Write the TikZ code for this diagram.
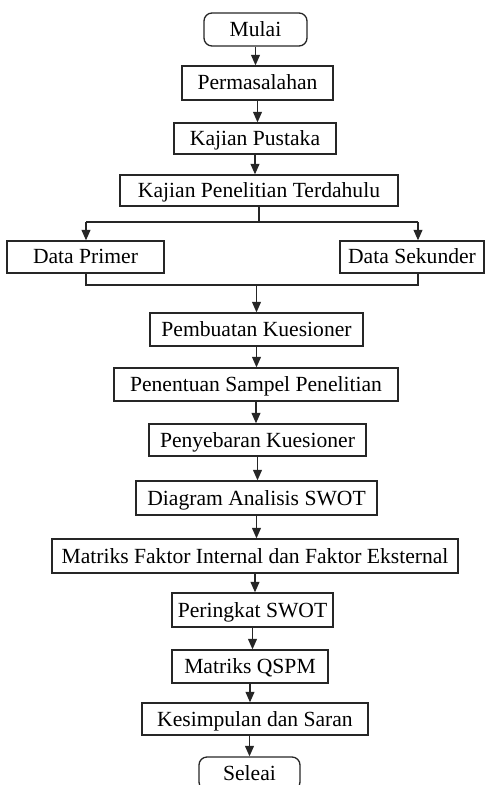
\documentclass[tikz,border=0pt]{standalone}
\usepackage{fontspec}
\setmainfont{Liberation Serif}
\usepackage{tikz}
\usetikzlibrary{arrows.meta}

\tikzset{
    kotak/.style={draw=black!85, line width=0.65pt, inner sep=0pt, text height=0.85em, text depth=0.15em, font=\fontsize{10.8}{13}\selectfont},
    ujung/.style={kotak, rounded corners=4pt},
    panah/.style={draw=black!85, line width=0.65pt, -{Triangle[width=4.4pt,length=5.2pt]}},
    garis/.style={draw=black!85, line width=0.65pt}
}

\begin{document}
\begin{tikzpicture}[x=0.5pt,y=-0.5pt]
                    \useasboundingbox (0,0) rectangle (485,785);

                    \node[ujung, minimum width=51.5pt, minimum height=16.5pt] (mulai) at (255.5,29.5) {Mulai};
                    \node[kotak, minimum width=75.5pt, minimum height=17pt] (masalah) at (257.5,83) {Permasalahan};
                    \node[kotak, minimum width=81pt, minimum height=15.5pt] (pustaka) at (255,138.5) {Kajian Pustaka};
                    \node[kotak, minimum width=139pt, minimum height=15.5pt] (terdahulu) at (259,190.5) {Kajian Penelitian Terdahulu};
                    \node[kotak, minimum width=78.5pt, minimum height=16pt] (primer) at (85.5,257) {Data Primer};
                    \node[kotak, minimum width=72pt, minimum height=16pt] (sekunder) at (412,257) {Data Sekunder};
                    \node[kotak, minimum width=106.5pt, minimum height=16.5pt] (kuesioner) at (256.5,329.5) {Pembuatan Kuesioner};
                    \node[kotak, minimum width=142pt, minimum height=16.5pt] (sampel) at (256,384.5) {Penentuan Sampel Penelitian};
                    \node[kotak, minimum width=108.5pt, minimum height=16pt] (sebar) at (257.5,440) {Penyebaran Kuesioner};
                    \node[kotak, minimum width=120.5pt, minimum height=17pt] (swot) at (256.5,498) {Diagram Analisis SWOT};
                    \node[kotak, minimum width=203pt, minimum height=17pt] (matriks) at (255,556) {Matriks Faktor Internal dan Faktor Eksternal};
                    \node[kotak, minimum width=80.5pt, minimum height=17pt] (peringkat) at (252.5,610) {Peringkat SWOT};
                    \node[kotak, minimum width=78pt, minimum height=16.5pt] (qspm) at (250,666.5) {Matriks QSPM};
                    \node[kotak, minimum width=113pt, minimum height=16pt] (simpulan) at (255,719) {Kesimpulan dan Saran};
                    \node[ujung, minimum width=50.5pt, minimum height=16.5pt] (selesai) at (249.5,773.5) {Seleai};

                    % cabang ke data primer dan sekunder
                    \coordinate (kiri) at (86,222);
                    \coordinate (kanan) at (418,222);
                    \coordinate (bawahkiri) at (86,285);
                    \coordinate (bawahkanan) at (418,285);

                    \draw[panah] (mulai.south) -- (mulai.south |- masalah.north);
                    \draw[panah] (masalah.south) -- (masalah.south |- pustaka.north);
                    \draw[panah] (pustaka.south) -- (pustaka.south |- terdahulu.north);
                    \draw[garis] (terdahulu.south) -- (terdahulu.south |- kiri);
                    \draw[garis] (kiri) -- (kanan);
                    \draw[panah] (kiri) -- (kiri |- primer.north);
                    \draw[panah] (kanan) -- (kanan |- sekunder.north);
                    \draw[garis] (bawahkiri |- primer.south) -- (bawahkiri) -- (bawahkanan) -- (bawahkanan |- sekunder.south);
                    \draw[panah] (kuesioner.north |- bawahkiri) -- (kuesioner.north);
                    \draw[panah] (kuesioner.south) -- (kuesioner.south |- sampel.north);
                    \draw[panah] (sampel.south) -- (sampel.south |- sebar.north);
                    \draw[panah] (sebar.south) -- (sebar.south |- swot.north);
                    \draw[panah] (swot.south) -- (swot.south |- matriks.north);
                    \draw[panah] (matriks.south) -- (matriks.south |- peringkat.north);
                    \draw[panah] (peringkat.south) -- (peringkat.south |- qspm.north);
                    \draw[panah] (qspm.south) -- (qspm.south |- simpulan.north);
                    \draw[panah] (selesai.north |- simpulan.south) -- (selesai.north);
                \end{tikzpicture}
\end{document}
